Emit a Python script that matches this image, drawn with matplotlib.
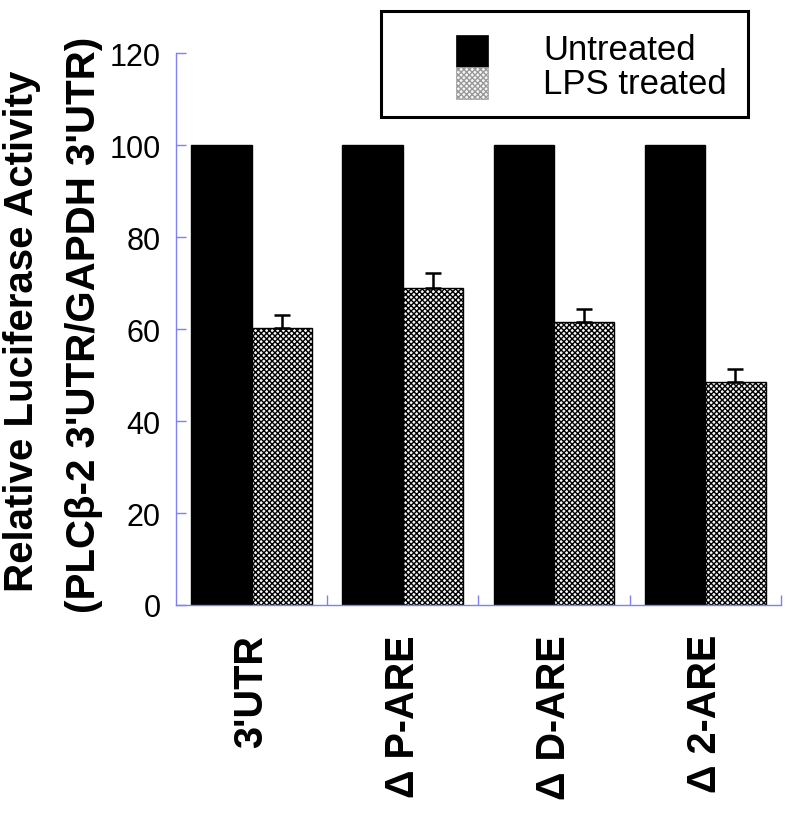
import matplotlib
matplotlib.use("Agg")
import matplotlib.pyplot as plt
import numpy as np
from matplotlib.patches import Rectangle

plt.rcParams['font.family'] = ['Liberation Sans', 'DejaVu Sans']
plt.rcParams['hatch.color'] = '#9c9c9c'
plt.rcParams['hatch.linewidth'] = 1.0

categories = ["3'UTR", "Δ P-ARE", "Δ D-ARE", "Δ 2-ARE"]
untreated = [100, 100, 100, 100]
lps = [60.2, 68.9, 61.5, 48.5]
lps_err = [2.8, 3.3, 2.8, 2.8]
yticks = [0, 20, 40, 60, 80, 100, 120]
legend_labels = ['Untreated', 'LPS treated']

axis_color = '#8080ee'
lps_face = '#f6f6f6'
lps_hatch = 'xxxxxx'

fig = plt.figure(figsize=(8, 8.2), dpi=100)
ax = fig.add_axes([0.22, 0.261, 0.756, 0.673])

x = np.arange(len(categories))
w = 0.4
ax.bar(x - w/2, untreated, width=w, color='black', edgecolor='black', linewidth=1)
ax.bar(x + w/2, lps, width=w, facecolor=lps_face, edgecolor='black', linewidth=1,
       hatch=lps_hatch)
ax.errorbar(x + w/2, lps, yerr=[np.zeros(len(lps)), lps_err], fmt='none',
            ecolor='black', elinewidth=1.8, capsize=6, capthick=1.8)

ax.set_xlim(-0.5, 3.5)
ax.set_ylim(0, 120)
ax.set_yticks(yticks)
ax.set_yticklabels([str(v) for v in yticks], fontsize=22)
ax.set_xticks(x)
ax.set_xticklabels(categories, rotation=90, fontsize=28.5, fontweight='bold')
ax.set_xticks([0.5, 1.5, 2.5, 3.5], minor=True)
ax.tick_params(axis='x', which='major', length=0, pad=21)
ax.tick_params(axis='x', which='minor', direction='in', length=7, color=axis_color, width=1)
ax.tick_params(axis='y', direction='in', length=7, color=axis_color, width=1, pad=11)

for s in ['top', 'right']:
    ax.spines[s].set_visible(False)
for s in ['left', 'bottom']:
    ax.spines[s].set_color(axis_color)
    ax.spines[s].set_linewidth(1)

fig.text(22/800, 1-331/820, "Relative Luciferase Activity", rotation=90, fontsize=29,
         fontweight='bold', ha='center', va='center')
fig.text(84/800, 1-325/820, "(PLCβ-2 3'UTR/GAPDH 3'UTR)", rotation=90, fontsize=29,
         fontweight='bold', ha='center', va='center')

# legend (drawn in figure coordinates)
frame = Rectangle((381/800, 1-118/820), (748-381)/800, (118-12)/820,
                  transform=fig.transFigure, facecolor='white', edgecolor='black',
                  linewidth=2.2)
fig.add_artist(frame)
fig.add_artist(Rectangle((456/800, 1-68/820), 32/800, 32/820, transform=fig.transFigure,
                         facecolor='black', edgecolor='black', linewidth=0.5))
fig.add_artist(Rectangle((456/800, 1-100/820), 32/800, 32/820, transform=fig.transFigure,
                         facecolor=lps_face, edgecolor='#999999', linewidth=0.5,
                         hatch=lps_hatch))
fig.text(543/800, 1-50/820, legend_labels[0], fontsize=25, ha='left', va='center')
fig.text(543/800, 1-84/820, legend_labels[1], fontsize=25, ha='left', va='center')

fig.savefig('out.png', dpi=100)
